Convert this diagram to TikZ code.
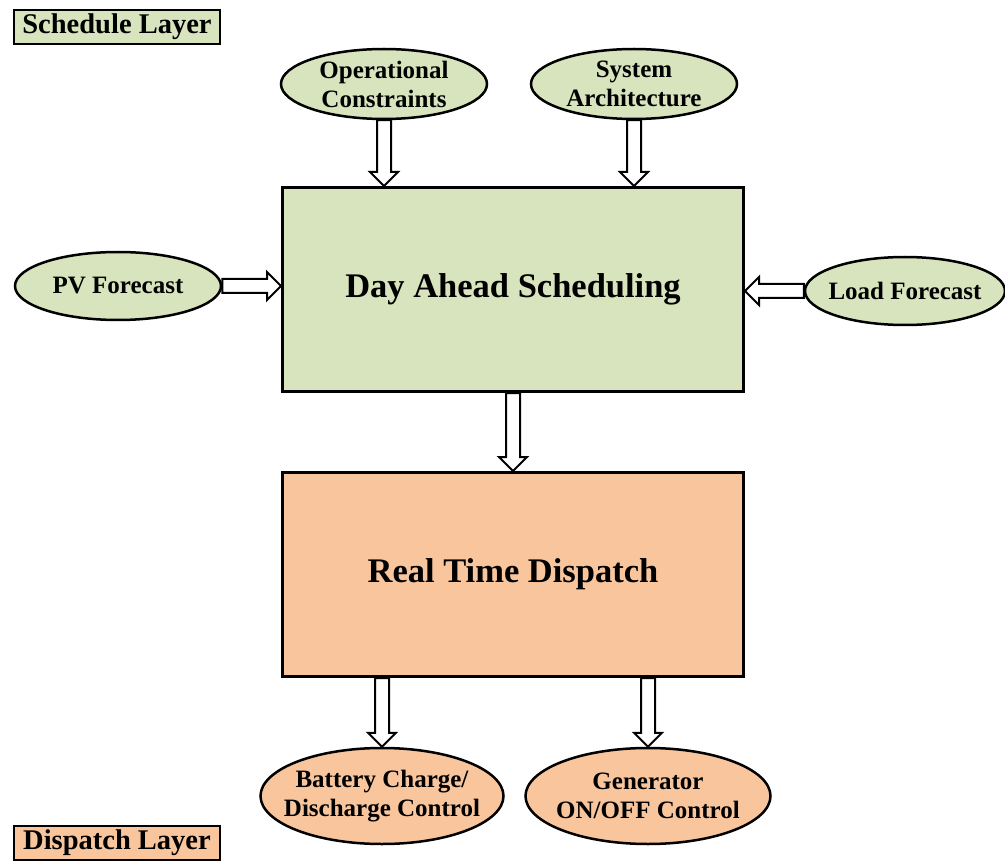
\documentclass[tikz,border=0pt]{standalone}
\usepackage{fontspec}
\setmainfont{Liberation Serif}
\usetikzlibrary{shapes.geometric,calc}
\definecolor{schedgreen}{HTML}{D7E4BD}
\definecolor{disporange}{HTML}{F8C59D}
\pgfdeclarelayer{bg}
\pgfsetlayers{bg,main}
\tikzset{
  layerbox/.style={draw, line width=2pt, inner sep=0pt, minimum width=206pt, minimum height=34pt,
    font=\fontsize{28.5}{32}\selectfont\bfseries},
  mainbox/.style={draw, line width=3pt, minimum width=461pt, minimum height=204pt,
    font=\fontsize{34.5}{40}\selectfont\bfseries},
  infoell/.style={ellipse, draw, line width=2.5pt, inner xsep=-60pt, inner ysep=-30pt,
    minimum height=68pt, align=center, font=\fontsize{25}{29}\selectfont\bfseries},
  blkarrow/.style={draw, line width=2pt, fill=white, line join=miter}
}
% hollow block arrow from #1 to #2: shaft 14pt wide, head 28pt wide and 14pt long
\newcommand{\blockarr}[2]{%
  \coordinate (ba-s) at (#1);
  \coordinate (ba-e) at (#2);
  \coordinate (ba-h) at ($(ba-e)!14pt!(ba-s)$);
  \draw[blkarrow] ($(ba-s)!7pt!90:(ba-e)$) -- ($(ba-h)!7pt!-90:(ba-s)$)
    -- ($(ba-h)!14pt!-90:(ba-s)$) -- (ba-e) -- ($(ba-h)!14pt!90:(ba-s)$)
    -- ($(ba-h)!7pt!90:(ba-s)$) -- ($(ba-s)!7pt!-90:(ba-e)$) -- cycle;}
\begin{document}
\begin{tikzpicture}[x=1pt, y=-1pt]
  \useasboundingbox (0,0) rectangle (1005,861);

  % layer labels
  \node[layerbox, fill=schedgreen] (schedlbl) at (117,27) {Schedule Layer};
  \node[layerbox, fill=disporange] (displbl) at (117,843) {Dispatch Layer};

  % main blocks
  \node[mainbox, fill=schedgreen] (das) at (513,289.5) {Day Ahead Scheduling};
  \node[mainbox, fill=disporange] (rtd) at (513,574.5) {Real Time Dispatch};

  % scheduling inputs
  \node[infoell, fill=schedgreen, minimum width=206pt, minimum height=70pt] (oc) at (384,84) {Operational\\Constraints};
  \node[infoell, fill=schedgreen, minimum width=206pt, minimum height=70pt] (sa) at (634,84) {System\\Architecture};
  \node[infoell, fill=schedgreen, minimum width=206pt] (pv) at (118,286) {PV Forecast};
  \node[infoell, fill=schedgreen, minimum width=200pt] (lf) at (905,291) {Load Forecast};

  % dispatch outputs
  \node[infoell, fill=disporange, minimum width=243pt, minimum height=96pt] (bcd) at (382,796) {Battery Charge/\\Discharge Control};
  \node[infoell, fill=disporange, minimum width=245pt, minimum height=96pt] (gen) at (648,796) {Generator\\ON/OFF Control};

  % connectors
  \begin{pgfonlayer}{bg}
    \blockarr{oc.south}{oc.south |- das.north}
    \blockarr{sa.south}{sa.south |- das.north}
    \blockarr{pv.east}{pv.east -| das.west}
    \blockarr{lf.west}{lf.west -| das.east}
    \blockarr{das.south}{rtd.north}
    \blockarr{bcd.north |- rtd.south}{bcd.north}
    \blockarr{gen.north |- rtd.south}{gen.north}
  \end{pgfonlayer}
\end{tikzpicture}
\end{document}
